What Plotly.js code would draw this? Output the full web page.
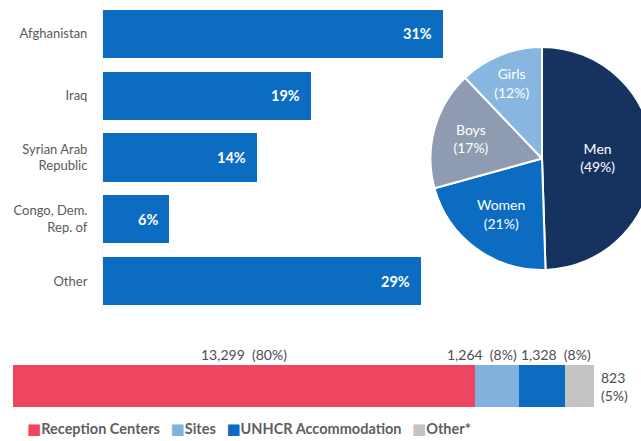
<!DOCTYPE html>
<html>
<head>
<meta charset="utf-8">
<script src="https://cdn.plot.ly/plotly-3.0.1.min.js"></script>
<style>
html,body{margin:0;padding:0;overflow:hidden;background:#fff;}
#chart{width:660px;height:441px;}
</style>
</head>
<body>
<div id="chart"></div>
<script>
// ---- data ----
const countries = ['Afghanistan', 'Iraq', 'Syrian Arab<br>Republic', 'Congo, Dem.<br>Rep. of', 'Other'];
const countryShare = [31, 19, 14, 6, 29];

const groups = ['Men', 'Women', 'Boys', 'Girls'];
const groupShare = [49, 21, 17, 12];

const accomTypes = ['Reception Centers', 'Sites', 'UNHCR Accommodation', 'Other*'];
const accomCounts = [13299, 1264, 1328, 823];

// ---- styles ----
const W = 660, H = 441;
const px = v => v / W;
const py = v => 1 - v / H;
const FONT = 'Lato, "Open Sans", sans-serif';
const barBlue = '#0b6cc2';
const groupColors = ['#16325e', '#0b6cc2', '#8e9bb1', '#87b6e0'];
const accomColors = ['#ee4660', '#80b2dd', '#0b6cc2', '#c3c3c3'];

const total = accomCounts.reduce((a, b) => a + b, 0);
const pct = v => Math.round(v / total * 100);
const fmt = v => v.toLocaleString('en-US');

const traces = [];

// country bars
traces.push({
  type: 'bar', orientation: 'h',
  x: countryShare, y: countries,
  xaxis: 'x', yaxis: 'y',
  marker: {color: barBlue},
  hoverinfo: 'none', showlegend: false
});

// pie
traces.push({
  type: 'pie',
  labels: groups, values: groupShare,
  sort: false, direction: 'clockwise', rotation: 0,
  marker: {colors: groupColors, line: {color: '#ffffff', width: 2}},
  texttemplate: '%{label}<br>(%{value}%)',
  textposition: 'inside',
  insidetextorientation: 'horizontal',
  insidetextfont: {family: FONT, size: 14, color: '#ffffff'},
  domain: {x: [px(430.5), px(653.5)], y: [py(270), py(47)]},
  hoverinfo: 'none', showlegend: false
});

// stacked accommodation bar
accomTypes.forEach((name, i) => {
  traces.push({
    type: 'bar', orientation: 'h',
    x: [accomCounts[i]], y: ['all'], width: 1,
    xaxis: 'x2', yaxis: 'y2', name: name,
    marker: {color: accomColors[i], line: {width: 0}},
    hoverinfo: 'none', showlegend: false
  });
});

const annotations = [];

// labels in country bars
countries.forEach((c, i) => {
  annotations.push({
    xref: 'x', yref: 'y', x: countryShare[i], y: c,
    text: '<b>' + countryShare[i] + '%</b>',
    xanchor: 'right', yanchor: 'middle', xshift: -9, showarrow: false,
    font: {family: FONT, size: 14.5, color: '#ffffff'}
  });
});

// labels above stacked bar
const cum = [];
accomCounts.reduce((a, v, i) => { cum[i] = a; return a + v; }, 0);
const labelFont = {family: FONT, size: 14, color: '#4d4d4d'};
const topLabel = i => fmt(accomCounts[i]) + '\u00a0 (' + pct(accomCounts[i]) + '%)';
annotations.push({
  xref: 'x2', yref: 'y2', x: cum[0] + accomCounts[0] / 2, y: 0.5,
  text: topLabel(0), xanchor: 'center', yanchor: 'bottom', yshift: 0,
  showarrow: false, font: labelFont
});
annotations.push({
  xref: 'x2', yref: 'y2', x: cum[1] + accomCounts[1], y: 0.5,
  text: topLabel(1), xanchor: 'right', yanchor: 'bottom', yshift: 0,
  showarrow: false, font: labelFont
});
annotations.push({
  xref: 'x2', yref: 'y2', x: cum[2], y: 0.5,
  text: topLabel(2), xanchor: 'left', yanchor: 'bottom', yshift: 0,
  showarrow: false, font: labelFont
});
annotations.push({
  xref: 'x2', yref: 'y2', x: total, y: 0,
  text: fmt(accomCounts[3]) + '<br>(' + pct(accomCounts[3]) + '%)',
  xanchor: 'left', yanchor: 'middle', xshift: 5, align: 'left',
  showarrow: false, font: labelFont
});

// custom legend
const legendText = accomTypes.map((n, i) =>
  '<span style="fill:' + accomColors[i] + ';color:' + accomColors[i] + ';font-size:15px;font-family:DejaVu Sans">\u25A0</span>' + n
).join('\u00a0\u00a0\u00a0');
annotations.push({
  xref: 'paper', yref: 'paper', x: px(25), y: py(429),
  text: legendText, xanchor: 'left', yanchor: 'middle', showarrow: false,
  font: {family: FONT, size: 14.5, color: '#5f5f5f', weight: 'bold'}
});

const layout = {
  width: W, height: H,
  margin: {l: 0, r: 0, t: 0, b: 0},
  paper_bgcolor: '#ffffff', plot_bgcolor: 'rgba(0,0,0,0)',
  showlegend: false,
  barmode: 'stack',
  bargap: 0.22,
  font: {family: FONT},
  xaxis: {
    domain: [px(103), px(443)], range: [0, 31],
    showgrid: false, zeroline: false, showticklabels: false, fixedrange: true
  },
  yaxis: {
    domain: [py(312), py(3)], autorange: 'reversed', type: 'category',
    showgrid: false, zeroline: false,
    showline: true, linecolor: '#f7f1ec', linewidth: 1,
    ticks: '', ticklabelstandoff: 12,
    tickfont: {family: FONT, size: 13, color: '#5a5a5a'}
  },
  xaxis2: {
    domain: [px(13), px(594)], range: [0, total], anchor: 'y2',
    showgrid: false, zeroline: false, showticklabels: false
  },
  yaxis2: {
    domain: [py(407), py(365)], range: [-0.5, 0.5], anchor: 'x2', type: 'category',
    showgrid: false, zeroline: false, showticklabels: false
  },
  annotations: annotations
};

Plotly.newPlot('chart', traces, layout, {staticPlot: true, displayModeBar: false});
</script>
</body>
</html>
